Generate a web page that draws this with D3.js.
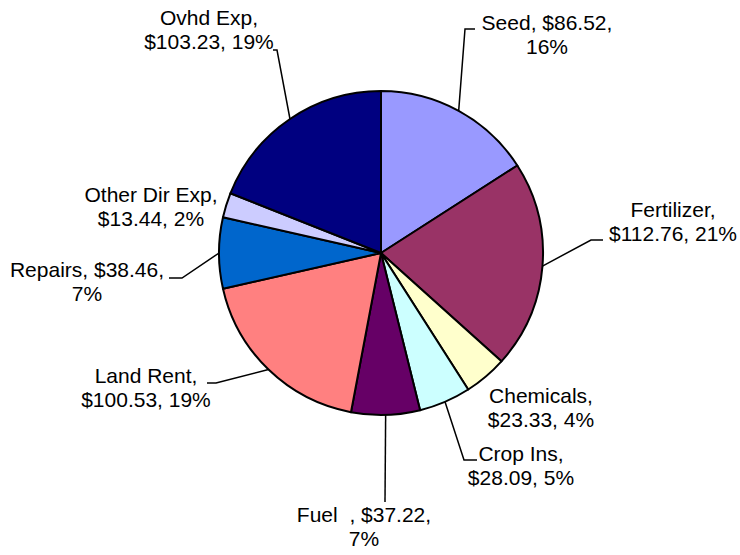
<!DOCTYPE html>
<html>
<head>
<meta charset="utf-8">
<script src="https://cdn.jsdelivr.net/npm/d3@7"></script>
<style>
  body { margin: 0; background: #fff; }
  text { font-family: "Liberation Sans", Arial, sans-serif; font-size: 21px; fill: #000; white-space: pre; }
</style>
</head>
<body>
<script>
//Cost breakdown pie, Excel-style labels with leader lines

var w = 740;
var h = 555;
var cx = 381;
var cy = 253;
var radius = 162;
var lineHeight = 24;

var categories = ["Seed", "Fertilizer", "Chemicals", "Crop Ins", "Fuel  ",
                  "Land Rent", "Repairs", "Other Dir Exp", "Ovhd Exp"];
var values = [86.52, 112.76, 23.33, 28.09, 37.22, 100.53, 38.46, 13.44, 103.23];
var percents = ["16%", "21%", "4%", "5%", "7%", "19%", "7%", "2%", "19%"];
var colors = ["#9999FF", "#993366", "#FFFFCC", "#CCFFFF", "#660066",
              "#FF8080", "#0066CC", "#CCCCFF", "#000080"];

//label placement: center x, first baseline, how many parts on line 1, leader bends
var labelLayout = [
  { x: 547, y: 30,  first: 2, leader: [[465, 29], [475, 29]] },
  { x: 673, y: 217, first: 1, leader: [[591, 240], [603, 240]] },
  { x: 541, y: 403, first: 1, leader: null },
  { x: 521, y: 461, first: 1, leader: [[464, 460], [477, 460]] },
  { x: 364, y: 522, first: 2, leader: [[385, 502]] },
  { x: 146, y: 383, first: 1, leader: [[216, 383], [207, 383]] },
  { x: 87,  y: 277, first: 2, leader: [[182, 278], [169, 278]] },
  { x: 151, y: 202, first: 1, leader: null },
  { x: 209, y: 25,  first: 1, leader: [[277, 50], [273, 50]] }
];

var dataset = categories.map(function(c, i) {
  return { name: c, value: values[i], pct: percents[i], color: colors[i], layout: labelLayout[i] };
});

var svg = d3.select("body")
  .append("svg")
  .attr("width", w)
  .attr("height", h);

var pie = d3.pie()
  .sort(null)
  .value(function(d) { return d.value; });

var arc = d3.arc()
  .innerRadius(0)
  .outerRadius(radius);

var arcs = pie(dataset);

var g = svg.append("g")
  .attr("transform", "translate(" + cx + "," + cy + ")");

g.selectAll("path")
  .data(arcs)
  .enter()
  .append("path")
  .attr("d", arc)
  .attr("fill", function(d) { return d.data.color; })
  .attr("stroke", "#000")
  .attr("stroke-width", 2)
  .attr("stroke-linejoin", "round");

//leader lines from slice edge (mid angle) to label
svg.selectAll("polyline")
  .data(arcs.filter(function(d) { return d.data.layout.leader; }))
  .enter()
  .append("polyline")
  .attr("points", function(d) {
    var a = (d.startAngle + d.endAngle) / 2;
    var pts = [[cx + radius * Math.sin(a), cy - radius * Math.cos(a)]];
    return pts.concat(d.data.layout.leader).map(function(p) { return p.join(","); }).join(" ");
  })
  .attr("fill", "none")
  .attr("stroke", "#000")
  .attr("stroke-width", 1.5);

svg.selectAll("text.label")
  .data(arcs)
  .enter()
  .append("text")
  .attr("class", "label")
  .attr("text-anchor", "middle")
  .attr("x", function(d) { return d.data.layout.x; })
  .attr("y", function(d) { return d.data.layout.y; })
  .each(function(d) {
    var parts = [d.data.name + ",", "$" + d.data.value.toFixed(2) + ",", d.data.pct];
    var n = d.data.layout.first;
    var lines = [parts.slice(0, n).join(" "), parts.slice(n).join(" ")];
    var t = d3.select(this);
    lines.forEach(function(l, i) {
      t.append("tspan")
        .attr("x", d.data.layout.x)
        .attr("dy", i === 0 ? 0 : lineHeight)
        .text(l);
    });
  });
</script>
</body>
</html>
